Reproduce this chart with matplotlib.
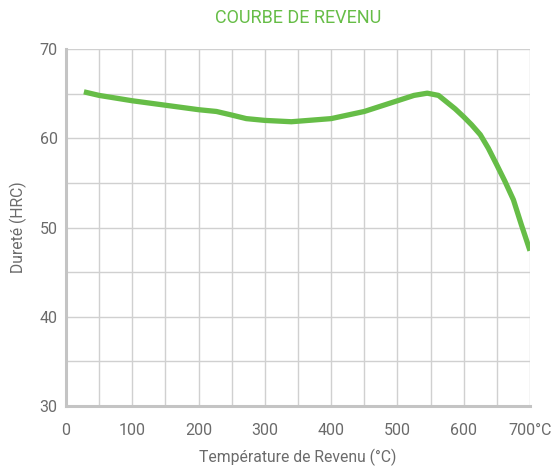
import numpy as np
import matplotlib.pyplot as plt
from matplotlib.ticker import MultipleLocator

# tempering curve values
temperature = [27, 50, 100, 150, 200, 227, 250, 272, 300, 340, 400, 450, 500, 525, 545,
               562, 587, 600, 612, 625, 637, 650, 662, 675, 687, 700]
hardness = [65.2, 64.8, 64.2, 63.7, 63.2, 63.0, 62.6, 62.2, 62.0, 61.85, 62.2, 63.0, 64.2, 64.8, 65.05,
            64.8, 63.3, 62.4, 61.5, 60.4, 58.9, 57.0, 55.2, 53.1, 50.3, 47.4]

x_ticks = [0, 100, 200, 300, 400, 500, 600, 700]
x_labels = ["0", "100", "200", "300", "400", "500", "600", "700°C"]
y_ticks = [30, 40, 50, 60, 70]

green = "#66bd47"
text_gray = "#6b6b6b"

plt.rcParams["font.family"] = ["Roboto", "DejaVu Sans"]

fig = plt.figure(figsize=(5.52, 4.68), dpi=100)
ax = fig.add_axes([66 / 552, 1 - 406 / 468, (530 - 66) / 552, (406 - 49) / 468])

ax.plot(temperature, hardness, color=green, lw=3.8, solid_capstyle="butt",
        solid_joinstyle="round", zorder=3)

ax.set_xlim(0, 700)
ax.set_ylim(30, 70)
ax.set_xticks(x_ticks)
ax.set_xticklabels(x_labels)
ax.set_yticks(y_ticks)
ax.xaxis.set_minor_locator(MultipleLocator(50))
ax.yaxis.set_minor_locator(MultipleLocator(5))
ax.grid(True, which="both", color="#d0d0d0", lw=1.0)
ax.set_axisbelow(True)

ax.tick_params(which="both", length=0)
ax.tick_params(axis="x", pad=12, labelsize=11.5, labelcolor=text_gray)
ax.tick_params(axis="y", pad=6, labelsize=11.5, labelcolor=text_gray)

for s in ["top", "right"]:
    ax.spines[s].set_visible(False)
for s in ["left", "bottom"]:
    ax.spines[s].set_color("#c4c4c4")
    ax.spines[s].set_linewidth(2.2)

ax.set_xlabel("Température de Revenu (°C)", fontsize=11.3, color=text_gray, labelpad=8)
ax.set_ylabel("Dureté (HRC)", fontsize=11.3, color=text_gray, labelpad=9)
fig.text(298 / 552, 1 - 18 / 468, "COURBE DE REVENU", ha="center", va="center",
         fontsize=13, color=green)

fig.savefig("out.png", dpi=100)
